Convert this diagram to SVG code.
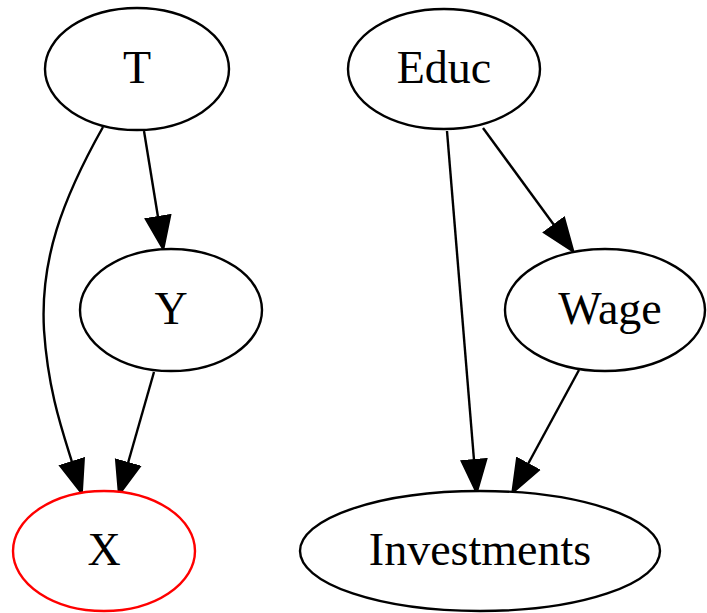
<svg xmlns="http://www.w3.org/2000/svg" width="707" height="613" viewBox="0 0 707 613">
<style>
.node ellipse{fill:#fff;stroke:#000;stroke-width:2.4}
.node text{font-family:"Liberation Serif","Times New Roman",serif;font-size:46px;fill:#000;text-anchor:middle}
.edge{fill:none;stroke:#000;stroke-width:2.4}
</style>
<defs>
<marker id="ah" viewBox="-1 -15 36 30" markerWidth="36" markerHeight="30" refX="0" refY="0" orient="auto" markerUnits="userSpaceOnUse">
<path d="M0,-12.5 L33,0 L0,12.5 Z" fill="#000" stroke="#000" stroke-width="2"/>
</marker>
</defs>
<rect width="707" height="613" fill="#fff"/>
<g id="edges">
<path class="edge" d="M144,131 L158,217" marker-end="url(#ah)"/>
<path class="edge" d="M103,127 C62,200 40,260 44,330 C48,390 62,430 72,462" marker-end="url(#ah)"/>
<path class="edge" d="M154,372 L128,463" marker-end="url(#ah)"/>
<path class="edge" d="M447,131 L474,460" marker-end="url(#ah)"/>
<path class="edge" d="M483,128 L554,225" marker-end="url(#ah)"/>
<path class="edge" d="M579,370 L528,464" marker-end="url(#ah)"/>
</g>
<g id="T" class="node"><ellipse cx="137" cy="69" rx="92" ry="61"/><text x="137" y="83">T</text></g>
<g id="Educ" class="node"><ellipse cx="444" cy="69" rx="96" ry="60"/><text x="444" y="83">Educ</text></g>
<g id="Y" class="node"><ellipse cx="171" cy="310" rx="91" ry="61"/><text x="171" y="324">Y</text></g>
<g id="Wage" class="node"><ellipse cx="605" cy="310" rx="100" ry="61"/><text x="610" y="324">Wage</text></g>
<g id="X" class="node"><ellipse cx="104" cy="551" rx="91" ry="60" style="stroke:#ff0000"/><text x="104" y="565">X</text></g>
<g id="Investments" class="node"><ellipse cx="480" cy="551" rx="180" ry="60"/><text x="480" y="565">Investments</text></g>
</svg>
